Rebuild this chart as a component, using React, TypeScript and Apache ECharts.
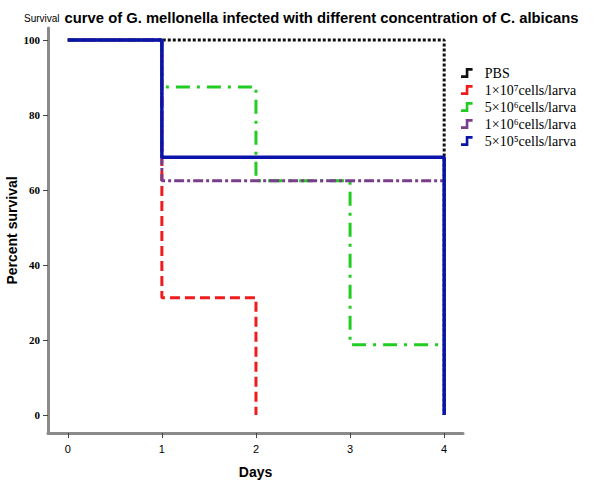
import React, { useEffect, useRef } from "react";
import * as echarts from "echarts";

const titleSmall = "Survival";
const titleMain = "curve of G. mellonella infected with different concentration of C. albicans";
const xTicks = [0, 1, 2, 3, 4];
const yTicks = [0, 20, 40, 60, 80, 100];

const seriesNames = [
  "PBS",
  "1×10⁷cells/larva",
  "5×10⁶cells/larva",
  "1×10⁶cells/larva",
  "5×10⁵cells/larva",
];
const pbsDays = [0, 1, 2, 3, 4];
const pbsSurv = [100, 100, 100, 100, 0];
const e7Days = [0, 1, 2];
const e7Surv = [100, 31.25, 0];
const c5e6Days = [0, 1, 2, 3, 4];
const c5e6Surv = [100, 87.5, 62.5, 18.75, 18.75];
const e6Days = [0, 1, 4];
const e6Surv = [100, 62.5, 62.5];
const e5Days = [0, 1, 4];
const e5Surv = [100, 68.75, 0];

const pair = (d: number[], s: number[]) => d.map((x, i) => [x, s[i]]);

export default function App() {
  const ref = useRef<HTMLDivElement>(null);
  useEffect(() => {
    if (!ref.current) return;
    const chart = echarts.init(ref.current, undefined, { renderer: "svg" });
    const stepIcon = "path://M0,14 L9,14 L9,0 L22,0 L22,5 L14,5 L14,19 L0,19 Z";
    const mk = (name: string, data: number[][], color: string, type: any, width: number, z: number) => ({
      name,
      type: "line",
      step: "end",
      data,
      symbol: "none",
      z,
      lineStyle: { color, width, type, cap: "butt" },
      itemStyle: { color },
    });
    chart.setOption({
      animation: false,
      title: {
        left: 19,
        top: 4,
        text: `{a|${titleSmall}} {b|${titleMain}}`,
        textStyle: {
          rich: {
            a: { fontFamily: "Liberation Sans, Arial", fontSize: 10, color: "#000", fontWeight: "normal" },
            b: { fontFamily: "Liberation Sans, Arial", fontSize: 14.8, color: "#000", fontWeight: "bold" },
          },
        },
      },
      legend: {
        orient: "vertical",
        left: 456,
        top: 61,
        itemWidth: 24,
        itemHeight: 10,
        itemGap: 3,
        icon: stepIcon,
        textStyle: { fontFamily: "Liberation Serif, Times New Roman", fontSize: 14, lineHeight: 14, color: "#000", padding: [0, 0, 0, 1] },
        data: seriesNames,
      },
      grid: { left: 48, right: 139, top: 28, bottom: 50, outerBoundsMode: "none", containLabel: false },
      xAxis: {
        type: "value",
        min: -0.21,
        max: 4.2,
        name: "Days",
        nameLocation: "middle",
        nameGap: 32,
        nameMoveOverlap: false,
        nameTextStyle: { fontFamily: "Liberation Sans, Arial", fontSize: 14, fontWeight: "bold", color: "#000" },
        splitLine: { show: false },
        axisLine: { show: true, onZero: false, lineStyle: { color: "#8a8a8a", width: 3 } },
        axisTick: { show: true, length: 5, customValues: xTicks, lineStyle: { color: "#444", width: 1 } },
        axisLabel: { customValues: xTicks, margin: 10, fontFamily: "Liberation Sans, Arial", fontSize: 11, color: "#000" },
      },
      yAxis: {
        type: "value",
        min: -4.8,
        max: 103.2,
        name: "Percent survival",
        nameLocation: "middle",
        nameGap: 29,
        nameMoveOverlap: false,
        nameTextStyle: { fontFamily: "Liberation Sans, Arial", fontSize: 14, fontWeight: "bold", color: "#000" },
        splitLine: { show: false },
        axisLine: { show: true, onZero: false, lineStyle: { color: "#8a8a8a", width: 3 } },
        axisTick: { show: true, length: 5, customValues: yTicks, lineStyle: { color: "#444", width: 1 } },
        axisLabel: { customValues: yTicks, margin: 8, fontFamily: "Liberation Serif, Times New Roman", fontSize: 11, color: "#000", fontWeight: "bold" },
      },
      series: [
        mk(seriesNames[0], pair(pbsDays, pbsSurv), "#111111", [3, 2], 3, 1),
        mk(seriesNames[1], pair(e7Days, e7Surv), "#ee1c1c", [10, 5], 3, 2),
        mk(seriesNames[2], pair(c5e6Days, c5e6Surv), "#22cc22", [14, 7, 3, 7], 3, 3),
        mk(seriesNames[3], pair(e6Days, e6Surv), "#7a3d8c", [10, 3, 3, 3], 3, 4),
        mk(seriesNames[4], pair(e5Days, e5Surv), "#0a14aa", "solid", 3.5, 5),
      ],
    });
    return () => chart.dispose();
  }, []);
  return <div ref={ref} style={{ position: "fixed", left: 0, top: 0, width: 602, height: 483, background: "#fff" }} />;
}
